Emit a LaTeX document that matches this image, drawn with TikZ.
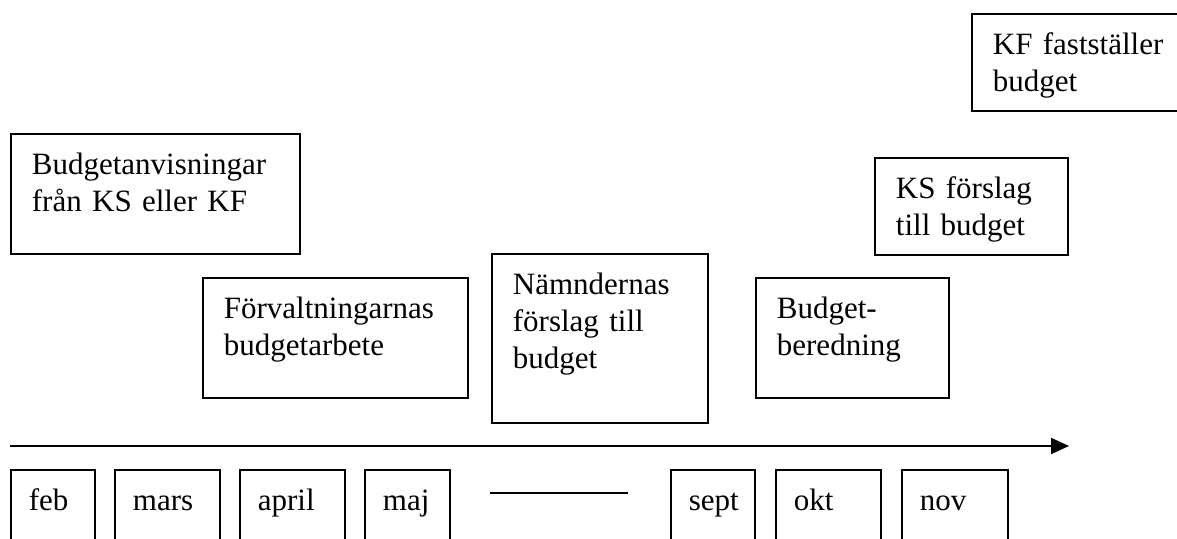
\documentclass[tikz,border=0pt]{standalone}
\usepackage{fontspec}
\setmainfont{Liberation Serif}
\usetikzlibrary{arrows.meta}

\begin{document}
\begin{tikzpicture}[x=1pt,y=-1pt,
    every node/.style={font=\fontsize{31}{37}\selectfont},
    box/.style={draw,line width=1.8pt,anchor=north west,align=left,
      inner xsep=21pt,inner ysep=0pt,text height=41pt},
    month/.style={box,inner xsep=18pt,text depth=60pt}]
  \path[use as bounding box,clip] (0,0) rectangle (1177,538);
  % steps above the time line
  \node[box,text width=247pt,text depth=79pt] (anvis) at (10,133)
    {Budgetanvisningar\\från KS eller KF};
  \node[box,text width=223pt,text depth=79pt] (forv) at (202,277)
    {Förvaltningarnas\\budgetarbete};
  \node[box,text width=174pt,text depth=128pt] (namnd) at (491,253)
    {Nämndernas\\förslag till\\budget};
  \node[box,text width=151pt,text depth=79pt] (bered) at (755,277)
    {Budget-\\beredning};
  \node[box,text width=151pt,text depth=56pt] (ksf) at (874,157)
    {KS förslag\\till budget};
  \node[box,text width=198pt,text depth=56pt] (kff) at (971,13)
    {KF fastställer\\budget};
  % time line
  \coordinate (start) at (10,446);
  \coordinate (end) at (1069,446);
  \draw[line width=2pt,-{Triangle[length=18pt,width=16pt]}] (start) -- (end);
  % months
  \node[month,text width=48pt] (feb) at (10,469) {feb};
  \node[month,text width=69pt] (mars) at (114,469) {mars};
  \node[month,text width=69pt] (april) at (239,469) {april};
  \node[month,text width=49pt] (maj) at (364,469) {maj};
  \coordinate (gapL) at (490,493);
  \coordinate (gapR) at (628,493);
  \draw[line width=1.8pt] (gapL) -- (gapR);
  \node[month,text width=48pt] (sept) at (670,469) {sept};
  \node[month,text width=69pt] (okt) at (775,469) {okt};
  \node[month,text width=70pt] (nov) at (901,469) {nov};
\end{tikzpicture}
\end{document}
